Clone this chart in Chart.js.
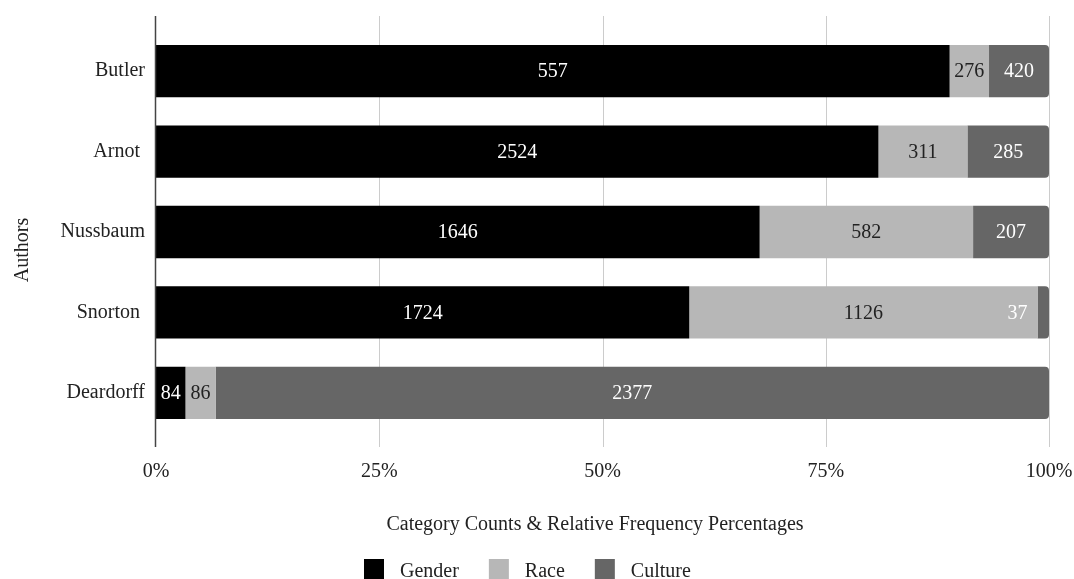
<!DOCTYPE html>
<html>
<head>
<meta charset="utf-8">
<title>Category Counts by Author</title>
<script src="https://cdn.jsdelivr.net/npm/chart.js@4.4.1/dist/chart.umd.min.js"></script>
<style>
  html, body { margin: 0; padding: 0; background: #fff; }
  #wrap { position: relative; width: 1074px; height: 579px; }
</style>
</head>
<body>
<div id="wrap"><canvas id="chart"></canvas></div>
<script>
/* ─────────────────────────────────────────────
   Data
───────────────────────────────────────────── */
const authors = ['Butler', 'Arnot ', 'Nussbaum', 'Snorton ', 'Deardorff'];
const gender  = [5557, 2524, 1646, 1724, 84];
const race    = [276, 311, 582, 1126, 86];
const culture = [420, 285, 207, 37, 2377];
// the source prints "557" on Butler's gender bar, though the bar runs to ~89%
const genderText = ['557', '2524', '1646', '1724', '84'];
const xTicks = [0, 25, 50, 75, 100];
const seriesNames = ['Gender', 'Race', 'Culture'];

const totals = authors.map((_, i) => gender[i] + race[i] + culture[i]);
const share = arr => arr.map((v, i) => v / totals[i] * 100);

const font = '"Liberation Serif", "Times New Roman", serif';
const colors = {
  gender: '#000000',
  race: '#b7b7b7',
  culture: '#666666',
  text: '#222222',
  grid: '#cccccc',
  axis: '#444444',
};
const seriesColors = [colors.gender, colors.race, colors.culture];
const labelColors = ['#ffffff', colors.text, '#ffffff'];
const labelTexts = [genderText, race.map(String), culture.map(String)];

/* ─────────────────────────────────────────────
   Plugins
───────────────────────────────────────────── */
const gridLines = {
  id: 'gridLines',
  beforeDatasetsDraw(chart) {
    const { ctx, chartArea: a, scales: { x } } = chart;
    ctx.save();
    ctx.strokeStyle = colors.grid;
    ctx.lineWidth = 1;
    xTicks.slice(1).forEach(v => {
      const px = Math.round(x.getPixelForValue(v)) + 0.5;
      ctx.beginPath();
      ctx.moveTo(px, a.top - 15);
      ctx.lineTo(px, a.bottom + 14);
      ctx.stroke();
    });
    ctx.restore();
  },
  afterDatasetsDraw(chart) {
    const { ctx, chartArea: a, scales: { x } } = chart;
    const px = Math.round(x.getPixelForValue(0)) - 0.5;
    ctx.save();
    ctx.strokeStyle = colors.axis;
    ctx.lineWidth = 1.5;
    ctx.beginPath();
    ctx.moveTo(px, a.top - 15);
    ctx.lineTo(px, a.bottom + 14);
    ctx.stroke();
    ctx.restore();
  }
};

const barLabels = {
  id: 'barLabels',
  afterDatasetsDraw(chart) {
    const { ctx } = chart;
    ctx.save();
    ctx.font = '20px ' + font;
    ctx.textAlign = 'center';
    ctx.textBaseline = 'middle';
    chart.data.datasets.forEach((ds, di) => {
      chart.getDatasetMeta(di).data.forEach((bar, i) => {
        const text = labelTexts[di][i];
        const w = ctx.measureText(text).width;
        const left = Math.min(bar.x, bar.base);
        const segW = Math.abs(bar.x - bar.base);
        let cx = left + segW / 2;
        // too narrow: sit just left of the segment
        if (w + 4 > segW) cx = left - 10 - w / 2;
        ctx.fillStyle = labelColors[di];
        ctx.fillText(text, cx, bar.y + 1);
      });
    });
    ctx.restore();
  }
};

const titlesAndLegend = {
  id: 'titlesAndLegend',
  afterDraw(chart) {
    const { ctx } = chart;
    ctx.save();
    ctx.font = '20px ' + font;
    ctx.fillStyle = colors.text;
    ctx.textBaseline = 'alphabetic';

    // x axis title
    ctx.textAlign = 'center';
    ctx.fillText('Category Counts & Relative Frequency Percentages', 595, 530);

    // y axis title
    ctx.save();
    ctx.translate(28, 250);
    ctx.rotate(-Math.PI / 2);
    ctx.fillText('Authors', 0, 0);
    ctx.restore();

    // legend
    ctx.textAlign = 'left';
    let lx = 364;
    seriesNames.forEach((name, i) => {
      ctx.fillStyle = seriesColors[i];
      ctx.fillRect(lx, 559, 20, 20);
      lx += 36;
      ctx.fillStyle = colors.text;
      ctx.fillText(name, lx, 577);
      lx += ctx.measureText(name).width + 30;
    });
    ctx.restore();
  }
};

/* ─────────────────────────────────────────────
   Chart
───────────────────────────────────────────── */
new Chart(document.getElementById('chart'), {
  type: 'bar',
  data: {
    labels: authors,
    datasets: [
      { label: seriesNames[0], data: share(gender), backgroundColor: colors.gender, borderRadius: 0 },
      { label: seriesNames[1], data: share(race), backgroundColor: colors.race, borderRadius: 0 },
      { label: seriesNames[2], data: share(culture), backgroundColor: colors.culture, borderRadius: 4 },
    ]
  },
  options: {
    indexAxis: 'y',
    responsive: true,
    maintainAspectRatio: false,
    animation: false,
    barPercentage: 0.65,
    categoryPercentage: 1,
    layout: { padding: { top: 31, right: 25, left: 0, bottom: 0 } },
    plugins: {
      legend: { display: false },
      tooltip: { enabled: false },
    },
    scales: {
      x: {
        stacked: true,
        min: 0,
        max: 100,
        grid: { display: false },
        border: { display: false },
        afterBuildTicks: s => { s.ticks = xTicks.map(v => ({ value: v })); },
        afterFit: s => { s.height = 146; s.paddingLeft = 0; s.paddingRight = 0; },
        ticks: {
          color: colors.text,
          font: { family: font, size: 20 },
          padding: 19,
          maxRotation: 0,
          callback: v => v + '%'
        }
      },
      y: {
        stacked: true,
        grid: { display: false },
        border: { display: false },
        afterFit: s => { s.width = 156; },
        ticks: {
          color: colors.text,
          font: { family: font, size: 20 },
          padding: 3
        }
      }
    }
  },
  plugins: [gridLines, barLabels, titlesAndLegend]
});
</script>
</body>
</html>
